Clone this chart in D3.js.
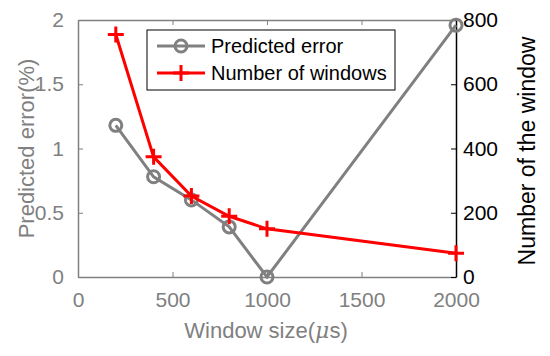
<!DOCTYPE html>
<html>
<head>
    <title>Window size</title>
    <script src="https://d3js.org/d3.v7.min.js"></script>
    <style>
        body { margin: 0; background: #fff; }
        text { font-family: "Liberation Sans", Arial, sans-serif; }
    </style>
</head>
<body>
<script>
const windowSizes = [200, 400, 600, 800, 1000, 2000];
const predictedError = [1.18, 0.78, 0.60, 0.39, 0.0, 1.96];
const windowCounts = [755, 374, 252, 189, 150, 74];
const xTicks = [0, 500, 1000, 1500, 2000];
const leftTicks = [0, 0.5, 1, 1.5, 2];
const rightTicks = [0, 200, 400, 600, 800];

const width = 550, height = 356;
const margin = { top: 20, right: 94, bottom: 79, left: 78 };
const grey = '#808080';
const fmt = d => String(d);

const svg = d3.select('body').append('svg')
    .attr('width', width)
    .attr('height', height);

const x = d3.scaleLinear().domain([0, 2000]).range([margin.left, width - margin.right]);
const yL = d3.scaleLinear().domain([0, 2]).range([height - margin.bottom, margin.top]);
const yR = d3.scaleLinear().domain([0, 800]).range([height - margin.bottom, margin.top]);

// bottom axis
const xAxis = svg.append('g')
    .attr('transform', `translate(0,${height - margin.bottom})`)
    .call(d3.axisBottom(x).tickValues(xTicks).tickFormat(fmt).tickSizeInner(-5).tickSizeOuter(0).tickPadding(15));
xAxis.select('.domain').attr('stroke', grey).attr('stroke-width', 1.5);
xAxis.selectAll('.tick line').attr('stroke', grey);
xAxis.selectAll('.tick text').attr('fill', grey).attr('font-size', 21);

// top line with ticks
const topAxis = svg.append('g')
    .attr('transform', `translate(0,${margin.top})`)
    .call(d3.axisTop(x).tickValues(xTicks).tickSizeInner(-5).tickSizeOuter(0).tickFormat(''));
topAxis.select('.domain').attr('stroke', grey).attr('stroke-width', 1.5);
topAxis.selectAll('.tick line').attr('stroke', grey);

// left axis
const leftAxis = svg.append('g')
    .attr('transform', `translate(${margin.left},0)`)
    .call(d3.axisLeft(yL).tickValues(leftTicks).tickFormat(fmt).tickSizeInner(-5).tickSizeOuter(0).tickPadding(14));
leftAxis.select('.domain').attr('stroke', grey).attr('stroke-width', 1.5);
leftAxis.selectAll('.tick line').attr('stroke', grey);
leftAxis.selectAll('.tick text').attr('fill', grey).attr('font-size', 21);

// right axis
const rightAxis = svg.append('g')
    .attr('transform', `translate(${width - margin.right},0)`)
    .call(d3.axisRight(yR).tickValues(rightTicks).tickFormat(fmt).tickSizeInner(-5).tickSizeOuter(0).tickPadding(7));
rightAxis.select('.domain').attr('stroke', '#000').attr('stroke-width', 1.5);
rightAxis.selectAll('.tick line').attr('stroke', '#000');
rightAxis.selectAll('.tick text').attr('fill', '#000').attr('font-size', 21);

// axis labels
svg.append('text')
    .attr('x', (margin.left + width - margin.right) / 2 - 1)
    .attr('y', 338)
    .attr('text-anchor', 'middle')
    .attr('fill', grey)
    .attr('font-size', 22)
    .html('Window size(<tspan font-style="italic" font-family="DejaVu Serif">μ</tspan>s)');

svg.append('text')
    .attr('transform', `translate(34,${(margin.top + height - margin.bottom) / 2}) rotate(-90)`)
    .attr('text-anchor', 'middle')
    .attr('fill', grey)
    .attr('font-size', 22)
    .text('Predicted error(%)');

svg.append('text')
    .attr('transform', `translate(535,151) rotate(-90)`)
    .attr('text-anchor', 'middle')
    .attr('fill', '#000')
    .attr('font-size', 23)
    .text('Number of the window');

// predicted error series
const errData = windowSizes.map((d, i) => [d, predictedError[i]]);
svg.append('path')
    .datum(errData)
    .attr('fill', 'none')
    .attr('stroke', grey)
    .attr('stroke-width', 3)
    .attr('d', d3.line().x(d => x(d[0])).y(d => yL(d[1])));
svg.selectAll('.err-pt')
    .data(errData)
    .enter()
    .append('circle')
    .attr('cx', d => x(d[0]))
    .attr('cy', d => yL(d[1]))
    .attr('r', 6)
    .attr('fill', 'none')
    .attr('stroke', grey)
    .attr('stroke-width', 3);

// number of windows series
const cntData = windowSizes.map((d, i) => [d, windowCounts[i]]);
svg.append('path')
    .datum(cntData)
    .attr('fill', 'none')
    .attr('stroke', '#ff0000')
    .attr('stroke-width', 3)
    .attr('d', d3.line().x(d => x(d[0])).y(d => yR(d[1])));
svg.selectAll('.cnt-pt')
    .data(cntData)
    .enter()
    .append('path')
    .attr('transform', d => `translate(${x(d[0])},${yR(d[1])})`)
    .attr('d', 'M-8,0H8M0,-8V8')
    .attr('stroke', '#ff0000')
    .attr('stroke-width', 3);

// legend
const lg = svg.append('g').attr('transform', 'translate(147,30)');
lg.append('rect')
    .attr('width', 248).attr('height', 60)
    .attr('fill', '#fff').attr('stroke', '#000').attr('stroke-width', 1);
lg.append('line').attr('x1', 10).attr('x2', 58).attr('y1', 16).attr('y2', 16)
    .attr('stroke', grey).attr('stroke-width', 3);
lg.append('circle').attr('cx', 34).attr('cy', 16).attr('r', 6)
    .attr('fill', 'none').attr('stroke', grey).attr('stroke-width', 3);
lg.append('text').attr('x', 64).attr('y', 23).attr('font-size', 20).text('Predicted error');
lg.append('line').attr('x1', 10).attr('x2', 58).attr('y1', 43).attr('y2', 43)
    .attr('stroke', '#ff0000').attr('stroke-width', 3);
lg.append('path').attr('transform', 'translate(34,43)').attr('d', 'M-8,0H8M0,-8V8')
    .attr('stroke', '#ff0000').attr('stroke-width', 3);
lg.append('text').attr('x', 64).attr('y', 50).attr('font-size', 20).text('Number of windows');
</script>
</body>
</html>
